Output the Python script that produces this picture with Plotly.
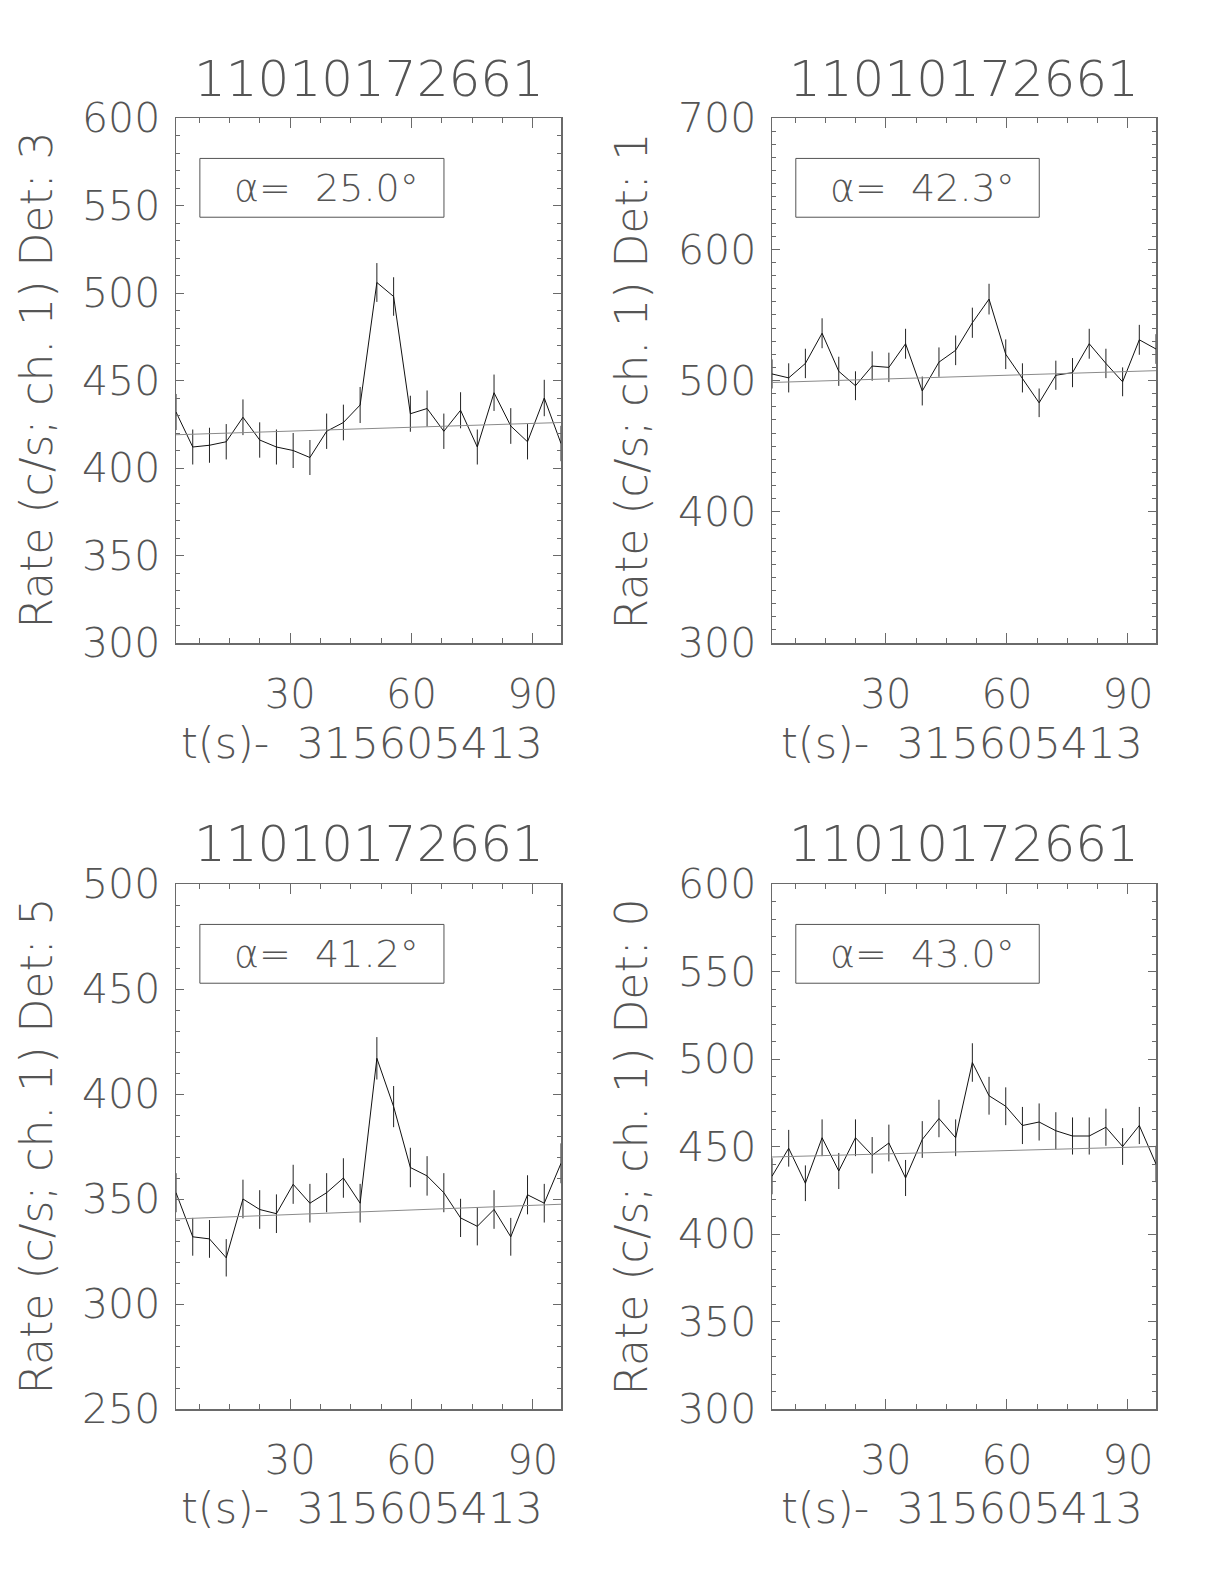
import plotly.graph_objects as go

# ---------------- data ----------------
obs_id = "11010172661"
t_offset_label = "t(s)-  315605413"

time_s = [1.75, 5.89, 10.03, 14.17, 18.31, 22.45, 26.59, 30.73, 34.87, 39.01,
          43.15, 47.29, 51.43, 55.57, 59.71, 63.85, 67.99, 72.13, 76.27, 80.41,
          84.55, 88.69, 92.83, 96.97]

rate_det3 = [432, 412, 413, 415, 429, 416, 412, 410, 406, 421, 426, 436,
             506, 498, 431, 434, 421, 433, 412, 443, 424, 415, 440, 414]
err_det3 = [10.3, 10.0, 10.0, 10.1, 10.2, 10.1, 10.0, 10.0, 10.0, 10.1, 10.2, 10.3,
            11.1, 11.0, 10.3, 10.3, 10.1, 10.3, 10.0, 10.4, 10.2, 10.1, 10.4, 10.1]
bkg_det3 = [419, 426]

rate_det1 = [505, 502, 513, 536, 507, 496, 511, 510, 528, 492, 514, 523,
             544, 562, 520, 502, 483, 504, 506, 528, 513, 499, 531, 524]
err_det1 = [11.1, 11.1, 11.2, 11.4, 11.1, 11.0, 11.2, 11.2, 11.4, 11.0, 11.2, 11.3,
            11.5, 11.7, 11.3, 11.1, 10.9, 11.1, 11.1, 11.4, 11.2, 11.0, 11.4, 11.3]
bkg_det1 = [498.5, 507.5]

rate_det5 = [353, 332, 331, 322, 350, 345, 343, 357, 348, 353, 360, 348,
             417, 394, 365, 361, 353, 341, 337, 345, 332, 352, 348, 367]
err_det5 = [9.3, 9.0, 9.0, 8.9, 9.2, 9.2, 9.2, 9.3, 9.2, 9.3, 9.4, 9.2,
            10.1, 9.8, 9.4, 9.4, 9.3, 9.1, 9.1, 9.2, 9.0, 9.3, 9.2, 9.5]
bkg_det5 = [340.5, 347.5]

rate_det0 = [433, 449, 429, 455, 436, 455, 445, 452, 432, 454, 466, 455,
             498, 479, 473, 462, 464, 459, 456, 456, 461, 450, 462, 440]
err_det0 = [10.3, 10.5, 10.2, 10.5, 10.3, 10.5, 10.4, 10.5, 10.3, 10.5, 10.7, 10.5,
            11.0, 10.8, 10.8, 10.6, 10.6, 10.6, 10.6, 10.6, 10.6, 10.5, 10.6, 10.4]
bkg_det0 = [444, 450]

detectors = ["3", "1", "5", "0"]
alphas = ["25.0", "42.3", "41.2", "43.0"]
y_ranges = [[300, 600], [300, 700], [250, 500], [300, 600]]
y_dticks = [50, 100, 50, 50]
x_tickvals = [30, 60, 90]

rates = [rate_det3, rate_det1, rate_det5, rate_det0]
errs = [err_det3, err_det1, err_det5, err_det0]
bkgs = [bkg_det3, bkg_det1, bkg_det5, bkg_det0]

# ---------------- layout geometry ----------------
W, H = 1224, 1584
col_px = [(176, 561), (772, 1156)]
row_px = [(118, 643), (884, 1409)]
ytitle_x_px = [36, 631]
xtitle_x_px = [362, 962]
title_y_px = [79, 844]
xtitle_y_px = [743, 1508]

TXT = "#555555"
AX = "#6a6a6a"
FONT = "DejaVu Sans"
WT = 200

fig = go.Figure()
layout = dict(width=W, height=H, autosize=False, template="none",
              margin=dict(l=0, r=0, t=0, b=0, pad=0, autoexpand=False),
              paper_bgcolor="white", plot_bgcolor="white",
              showlegend=False, annotations=[], shapes=[],
              font=dict(family=FONT, color=TXT, size=40, weight=WT))

for i in range(4):
    r, c = divmod(i, 2)
    n = i + 1
    xa = "x" if n == 1 else f"x{n}"
    ya = "y" if n == 1 else f"y{n}"
    xkey = "xaxis" if n == 1 else f"xaxis{n}"
    ykey = "yaxis" if n == 1 else f"yaxis{n}"
    x0p, x1p = col_px[c]
    y0p, y1p = row_px[r]
    xdom = [x0p / W, x1p / W]
    ydom = [1 - y1p / H, 1 - y0p / H]

    # data with error bars
    fig.add_trace(go.Scatter(
        x=time_s, y=rates[i], mode="lines",
        line=dict(color="#111111", width=1),
        error_y=dict(type="data", array=errs[i], visible=True,
                     color="#222222", thickness=1, width=0),
        xaxis=xa, yaxis=ya, hoverinfo="skip"))
    # background fit
    fig.add_trace(go.Scatter(
        x=[time_s[0], time_s[-1]], y=bkgs[i], mode="lines",
        line=dict(color="#8a8a8a", width=1),
        xaxis=xa, yaxis=ya, hoverinfo="skip"))

    layout[xkey] = dict(
        domain=xdom, anchor=ya, range=[time_s[0], time_s[-1]],
        automargin=False,
        tickmode="array", tickvals=x_tickvals,
        ticks="inside", ticklen=10, tickwidth=1, tickcolor=AX,
        minor=dict(dtick=7.5, tick0=0, ticks="inside", ticklen=5,
                   tickwidth=1, tickcolor=AX, showgrid=False),
        showline=True, linecolor=AX, linewidth=1.5, mirror="allticks",
        showgrid=False, zeroline=False,
        tickfont=dict(family=FONT, size=40, color=TXT, weight=WT),
        ticklabelstandoff=15)
    layout[ykey] = dict(
        domain=ydom, anchor=xa, range=y_ranges[i],
        automargin=False,
        dtick=y_dticks[i], tick0=0,
        ticks="inside", ticklen=8, tickwidth=1, tickcolor=AX,
        minor=dict(dtick=10, tick0=0, ticks="inside", ticklen=4,
                   tickwidth=1, tickcolor=AX, showgrid=False),
        showline=True, linecolor=AX, linewidth=1.5, mirror="allticks",
        showgrid=False, zeroline=False,
        tickfont=dict(family=FONT, size=41, color=TXT, weight=WT),
        ticklabelstandoff=6)

    # panel title
    layout["annotations"].append(dict(
        text=obs_id, xref="paper", yref="paper",
        x=(xdom[0] + xdom[1]) / 2, y=1 - title_y_px[r] / H,
        xanchor="center", yanchor="middle", showarrow=False,
        font=dict(family=FONT, size=50, color=TXT, weight=WT)))
    # y axis title
    layout["annotations"].append(dict(
        text=f"Rate (c/s; ch. 1) Det: {detectors[i]}",
        xref="paper", yref="paper",
        x=ytitle_x_px[c] / W, y=(ydom[0] + ydom[1]) / 2,
        xanchor="center", yanchor="middle", textangle=-90, showarrow=False,
        font=dict(family=FONT, size=44, color=TXT, weight=WT)))
    # x axis title
    layout["annotations"].append(dict(
        text=t_offset_label, xref="paper", yref="paper",
        x=xtitle_x_px[c] / W, y=1 - xtitle_y_px[r] / H,
        xanchor="center", yanchor="middle", showarrow=False,
        font=dict(family=FONT, size=43, color=TXT, weight=WT)))
    # alpha label box
    layout["shapes"].append(dict(
        type="rect", xref=f"{xa} domain", yref=f"{ya} domain",
        x0=0.062, x1=0.696, y0=0.811, y1=0.923,
        line=dict(color="#555555", width=1)))
    layout["annotations"].append(dict(
        text=f"α=  {alphas[i]}°", xref=f"{xa} domain", yref=f"{ya} domain",
        x=0.392, y=0.867, xanchor="center", yanchor="middle", showarrow=False,
        font=dict(family=FONT, size=38, color=TXT, weight=WT)))

fig.update_layout(**layout)
fig.write_html("out.html",
               config={"displayModeBar": False, "staticPlot": True},
               post_script="document.body.style.margin='0';")
